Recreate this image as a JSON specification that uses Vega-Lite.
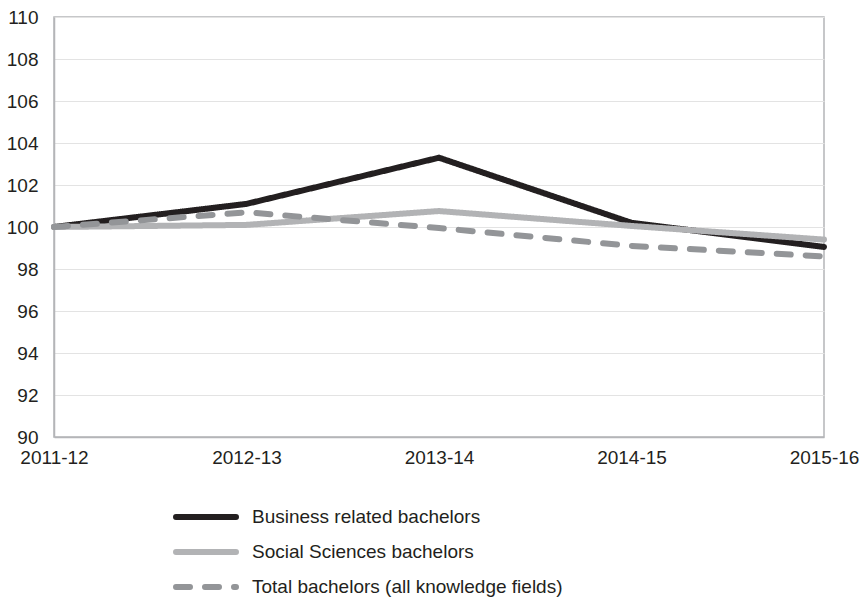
{
  "$schema": "https://vega.github.io/schema/vega-lite/v6.json",
  "width": 770,
  "height": 420,
  "autosize": {"type": "none"},
  "padding": {"left": 54, "top": 17, "right": 41, "bottom": 163},
  "background": "white",
  "config": {
    "font": "Liberation Sans",
    "view": {"stroke": "#b4b5b8", "strokeWidth": 1.5}
  },
  "data": {
    "values": [
      {"year": "2011-12", "series": "Business related bachelors", "index": 100},
      {"year": "2012-13", "series": "Business related bachelors", "index": 101.1},
      {"year": "2013-14", "series": "Business related bachelors", "index": 103.3},
      {"year": "2014-15", "series": "Business related bachelors", "index": 100.2},
      {"year": "2015-16", "series": "Business related bachelors", "index": 99.05},
      {"year": "2011-12", "series": "Social Sciences bachelors", "index": 100},
      {"year": "2012-13", "series": "Social Sciences bachelors", "index": 100.1},
      {"year": "2013-14", "series": "Social Sciences bachelors", "index": 100.76},
      {"year": "2014-15", "series": "Social Sciences bachelors", "index": 100.05},
      {"year": "2015-16", "series": "Social Sciences bachelors", "index": 99.4},
      {"year": "2011-12", "series": "Total bachelors (all knowledge fields)", "index": 100},
      {"year": "2012-13", "series": "Total bachelors (all knowledge fields)", "index": 100.7},
      {"year": "2013-14", "series": "Total bachelors (all knowledge fields)", "index": 99.95},
      {"year": "2014-15", "series": "Total bachelors (all knowledge fields)", "index": 99.1},
      {"year": "2015-16", "series": "Total bachelors (all knowledge fields)", "index": 98.6}
    ]
  },
  "mark": {"type": "line", "strokeWidth": 6, "strokeCap": "round", "strokeJoin": "miter"},
  "encoding": {
    "x": {
      "field": "year",
      "type": "ordinal",
      "scale": {"type": "point", "padding": 0},
      "axis": {
        "title": null,
        "labelAngle": 0,
        "labelFontSize": 19,
        "labelColor": "#231f20",
        "labelPadding": 11,
        "ticks": false,
        "domainColor": "#b4b5b8",
        "domainWidth": 1.5,
        "grid": false
      }
    },
    "y": {
      "field": "index",
      "type": "quantitative",
      "scale": {"domain": [90, 110], "nice": false, "zero": false},
      "axis": {
        "title": null,
        "values": [90, 92, 94, 96, 98, 100, 102, 104, 106, 108, 110],
        "labelFontSize": 19,
        "labelColor": "#231f20",
        "labelPadding": 16,
        "ticks": false,
        "domainColor": "#b4b5b8",
        "domainWidth": 1.5,
        "gridColor": "#e3e3e3",
        "gridWidth": 1.2
      }
    },
    "color": {
      "field": "series",
      "type": "nominal",
      "scale": {"range": ["#231f20", "#b2b3b5", "#939598"]},
      "legend": {
        "title": null,
        "orient": "none",
        "legendX": 119,
        "legendY": 490,
        "direction": "vertical",
        "symbolType": "stroke",
        "symbolSize": 3600,
        "symbolStrokeWidth": 6,
        "clipHeight": 20,
        "labelFontSize": 19,
        "labelColor": "#231f20",
        "labelOffset": 13,
        "rowPadding": 15,
        "labelLimit": 400,
        "encode": {"symbols": {"update": {"strokeCap": {"value": "round"}}}}
      }
    },
    "strokeDash": {
      "field": "series",
      "type": "nominal",
      "scale": {"range": [[1, 0], [1, 0], [14, 15]]},
      "legend": null
    },
    "order": {"field": "year"}
  }
}
